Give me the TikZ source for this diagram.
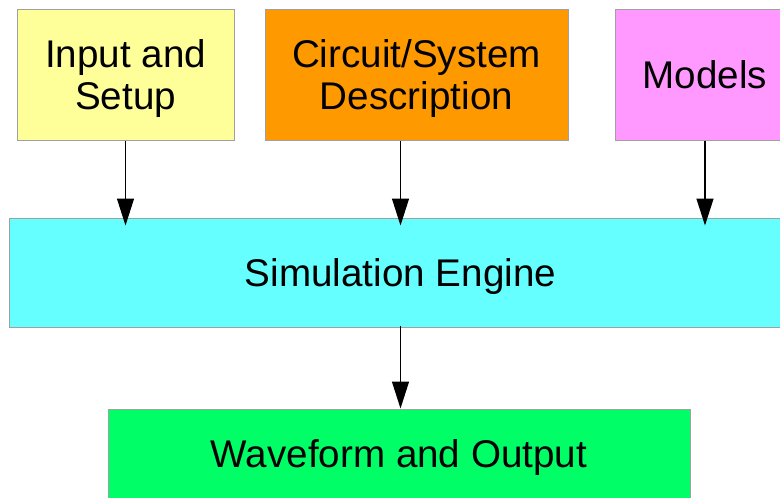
\documentclass[tikz,border=0pt]{standalone}
\usepackage{fontspec}
\setmainfont{Liberation Sans}
\usetikzlibrary{arrows.meta}
\definecolor{cyel}{HTML}{FFFF99}
\definecolor{corg}{HTML}{FF9900}
\definecolor{cmag}{HTML}{FF99FF}
\definecolor{ccya}{HTML}{66FFFF}
\definecolor{cgrn}{HTML}{00FF66}
\definecolor{cbrd}{HTML}{A0A0A0}
\tikzset{
  blk/.style={draw=cbrd, line width=1pt, inner sep=0pt, anchor=center,
    font=\fontsize{38.6}{42.5}\selectfont, align=center, text depth=0pt},
  arr/.style={line width=1.3pt, -{Triangle[length=27pt,width=17pt]}}
}
\begin{document}
\begin{tikzpicture}[x=1pt,y=-1pt]
\useasboundingbox (0,0) rectangle (780,498);
\clip (0,0) rectangle (780,498);
\fill[white] (0,0) rectangle (780,498);
\node[blk, fill=cyel, minimum width=217pt, minimum height=131pt] (inp) at (125.5,74.5) {Input and\\Setup};
\node[blk, fill=corg, minimum width=303pt, minimum height=131pt] (cir) at (416.5,74.5) {Circuit/System\\Description};
\node[blk, fill=cmag, minimum width=180pt, minimum height=131pt] (mod) at (705,74.5) {Models};
\node[blk, fill=ccya, minimum width=783pt, minimum height=109pt] (sim) at (400.5,272.5) {Simulation Engine};
\node[blk, fill=cgrn, minimum width=582pt, minimum height=90pt] (out) at (399,454) {Waveform and Output};
\draw[arr, shorten >=-8pt] (inp.south) -- (inp.south |- sim.north);
\draw[arr, shorten >=-8pt] (cir.south -| sim.north) -- (sim.north);
\draw[arr, shorten >=-8pt] (mod.south) -- (mod.south |- sim.north);
\draw[arr, shorten <=-2pt] (sim.south) -- (sim.south |- out.north);
\end{tikzpicture}
\end{document}
